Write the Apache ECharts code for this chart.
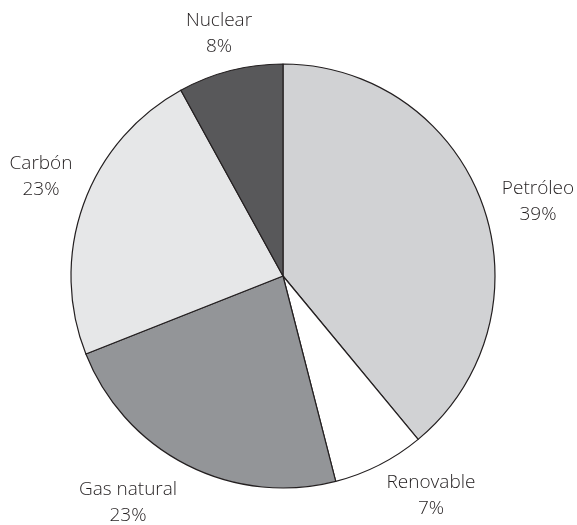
<!DOCTYPE html>
<html>
<head>
<meta charset="utf-8">
<script src="https://cdn.jsdelivr.net/npm/echarts@6/dist/echarts.min.js"></script>
<style>html,body{margin:0;padding:0;background:#fff;}#c{width:577px;height:525px;}</style>
</head>
<body>
<div id="c"></div>
<script>
var categories = ['Petróleo', 'Renovable', 'Gas natural', 'Carbón', 'Nuclear'];
var values = [39, 7, 23, 23, 8];
var colors = ['#d1d2d4', '#ffffff', '#939598', '#e6e7e8', '#58585a'];

// label block centres (layout only, in px)
var labelCentres = [[538, 202], [431, 496], [128, 503], [41, 177], [219, 34]];

var chart = echarts.init(document.getElementById('c'), null, {renderer: 'canvas'});
chart.setOption({
  animation: false,
  backgroundColor: '#ffffff',
  series: [{
    type: 'pie',
    center: [283, 276],
    radius: 212,
    startAngle: 90,
    clockwise: true,
    avoidLabelOverlap: false,
    data: categories.map(function (c, i) {
      return {name: c, value: values[i], itemStyle: {color: colors[i]}};
    }),
    itemStyle: {borderColor: '#231f20', borderWidth: 1.2},
    label: {
      show: true,
      position: 'outside',
      formatter: function (p) { return p.name + '\n' + p.value + '%'; },
      fontFamily: 'Open Sans',
      fontSize: 19,
      fontWeight: 300,
      color: '#231f20',
      lineHeight: 26
    },
    labelLine: {show: false, length: 15, length2: 0},
    labelLayout: function (p) {
      var c = labelCentres[p.dataIndex];
      return {x: c[0], y: c[1], align: 'center', verticalAlign: 'middle'};
    },
    emphasis: {disabled: true}
  }]
});
</script>
</body>
</html>
